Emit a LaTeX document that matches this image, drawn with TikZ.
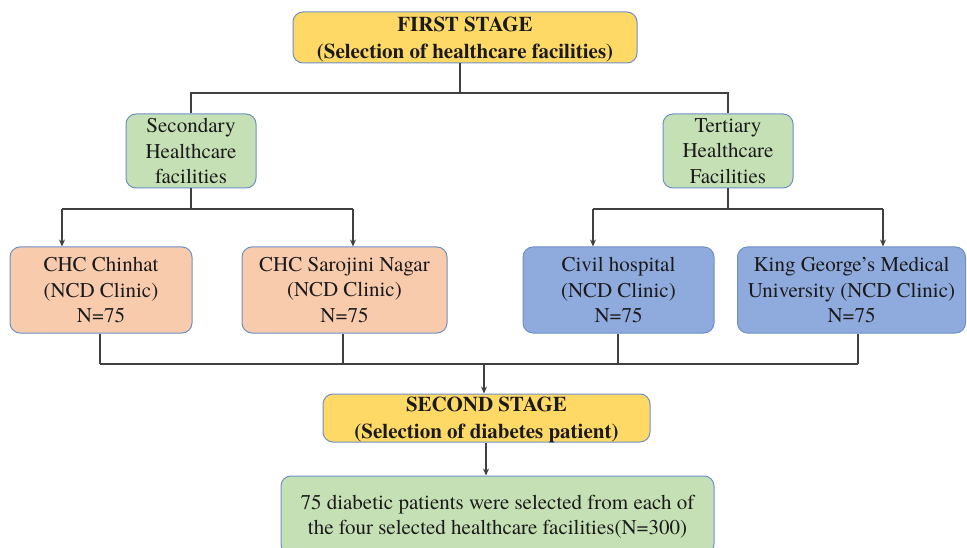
\documentclass[tikz,border=0pt]{standalone}
\usepackage{fontspec}
\setmainfont{texgyretermes}[Extension=.otf, UprightFont=*-regular, BoldFont=*-bold, ItalicFont=*-italic, BoldItalicFont=*-bolditalic]
\usetikzlibrary{arrows.meta}
\definecolor{gold}{HTML}{FFD966}
\definecolor{lgreen}{HTML}{C5E0B4}
\definecolor{peach}{HTML}{F8CBAD}
\definecolor{lblue}{HTML}{8FAADC}
\definecolor{bord}{HTML}{6F8FC8}
\definecolor{lncol}{HTML}{404040}
\definecolor{txt}{HTML}{1A1A1A}
\tikzset{
  box/.style={draw=bord, line width=1pt, rounded corners=10pt, align=center,
    inner sep=0pt, text=txt, font=\rmfamily\fontsize{21}{25.5}\selectfont},
  stagebox/.style={box, fill=gold, text depth=-3pt, font=\rmfamily\bfseries\fontsize{21}{27}\selectfont},
  greenbox/.style={box, fill=lgreen},
  peachbox/.style={box, fill=peach},
  bluebox/.style={box, fill=lblue},
  ln/.style={draw=lncol, line width=1.1pt},
  arr/.style={ln, -{Stealth[length=7pt,width=6pt]}}
}
\begin{document}
\begin{tikzpicture}[x=1pt,y=-1pt]
\useasboundingbox (0,0) rectangle (967,548);
\node[stagebox, minimum width=344pt, minimum height=51pt] (first) at (465,37.5)
  {FIRST STAGE\\(Selection of healthcare facilities)};
\node[greenbox, minimum width=130pt, minimum height=74pt] (sec) at (191,151)
  {Secondary\\Healthcare\\facilities};
\node[greenbox, minimum width=130pt, minimum height=74pt] (ter) at (728,151)
  {Tertiary\\Healthcare\\Facilities};
\node[peachbox, minimum width=182pt, minimum height=86pt] (chc1) at (101,290)
  {CHC Chinhat\\(NCD Clinic)\\N=75};
\node[peachbox, minimum width=205pt, minimum height=86pt] (chc2) at (344.5,290)
  {CHC Sarojini Nagar\\(NCD Clinic)\\N=75};
\node[bluebox, minimum width=191pt, minimum height=86pt] (civil) at (618.5,290)
  {Civil hospital\\(NCD Clinic)\\N=75};
\node[bluebox, minimum width=228pt, minimum height=86pt] (kgmu) at (851.5,290)
  {King George’s Medical\\University (NCD Clinic)\\N=75};
\node[stagebox, minimum width=327pt, minimum height=48pt] (second) at (486.5,418)
  {SECOND STAGE\\(Selection of diabetes patient)};
\node[greenbox, text depth=-3pt, minimum width=433pt, minimum height=78pt] (final) at (497.5,515)
  {75 diabetic patients were selected from each of\\the four selected healthcare facilities(N=300)};
% first stage split
\coordinate (j1) at (460,93);
\draw[ln] (first.south -| j1) -- (j1);
\draw[ln] (sec.north) |- (j1) -| (ter.north);
% secondary branch
\coordinate (js) at (191,209);
\coordinate (ja) at (62,209);
\coordinate (jb) at (353,209);
\draw[ln] (sec.south) -- (js);
\draw[ln] (ja) -- (jb);
\draw[arr] (ja) -- (chc1.north -| ja);
\draw[arr] (jb) -- (chc2.north -| jb);
% tertiary branch
\coordinate (jt) at (728,209);
\coordinate (jc) at (593,209);
\coordinate (jd) at (883,209);
\draw[ln] (ter.south) -- (jt);
\draw[ln] (jc) -- (jd);
\draw[arr] (jc) -- (civil.north -| jc);
\draw[arr] (jd) -- (kgmu.north -| jd);
% merge
\coordinate (m1) at (100,364);
\coordinate (m2) at (343,364);
\coordinate (m3) at (618,364);
\coordinate (m4) at (858,364);
\coordinate (mm) at (484,364);
\draw[ln] (chc1.south -| m1) -- (m1);
\draw[ln] (chc2.south -| m2) -- (m2);
\draw[ln] (civil.south -| m3) -- (m3);
\draw[ln] (kgmu.south -| m4) -- (m4);
\draw[ln] (m1) -- (m4);
\draw[arr] (mm) -- (second.north -| mm);
\coordinate (s2) at (486,442);
\draw[arr] (second.south -| s2) -- (final.north -| s2);
\end{tikzpicture}
\end{document}
